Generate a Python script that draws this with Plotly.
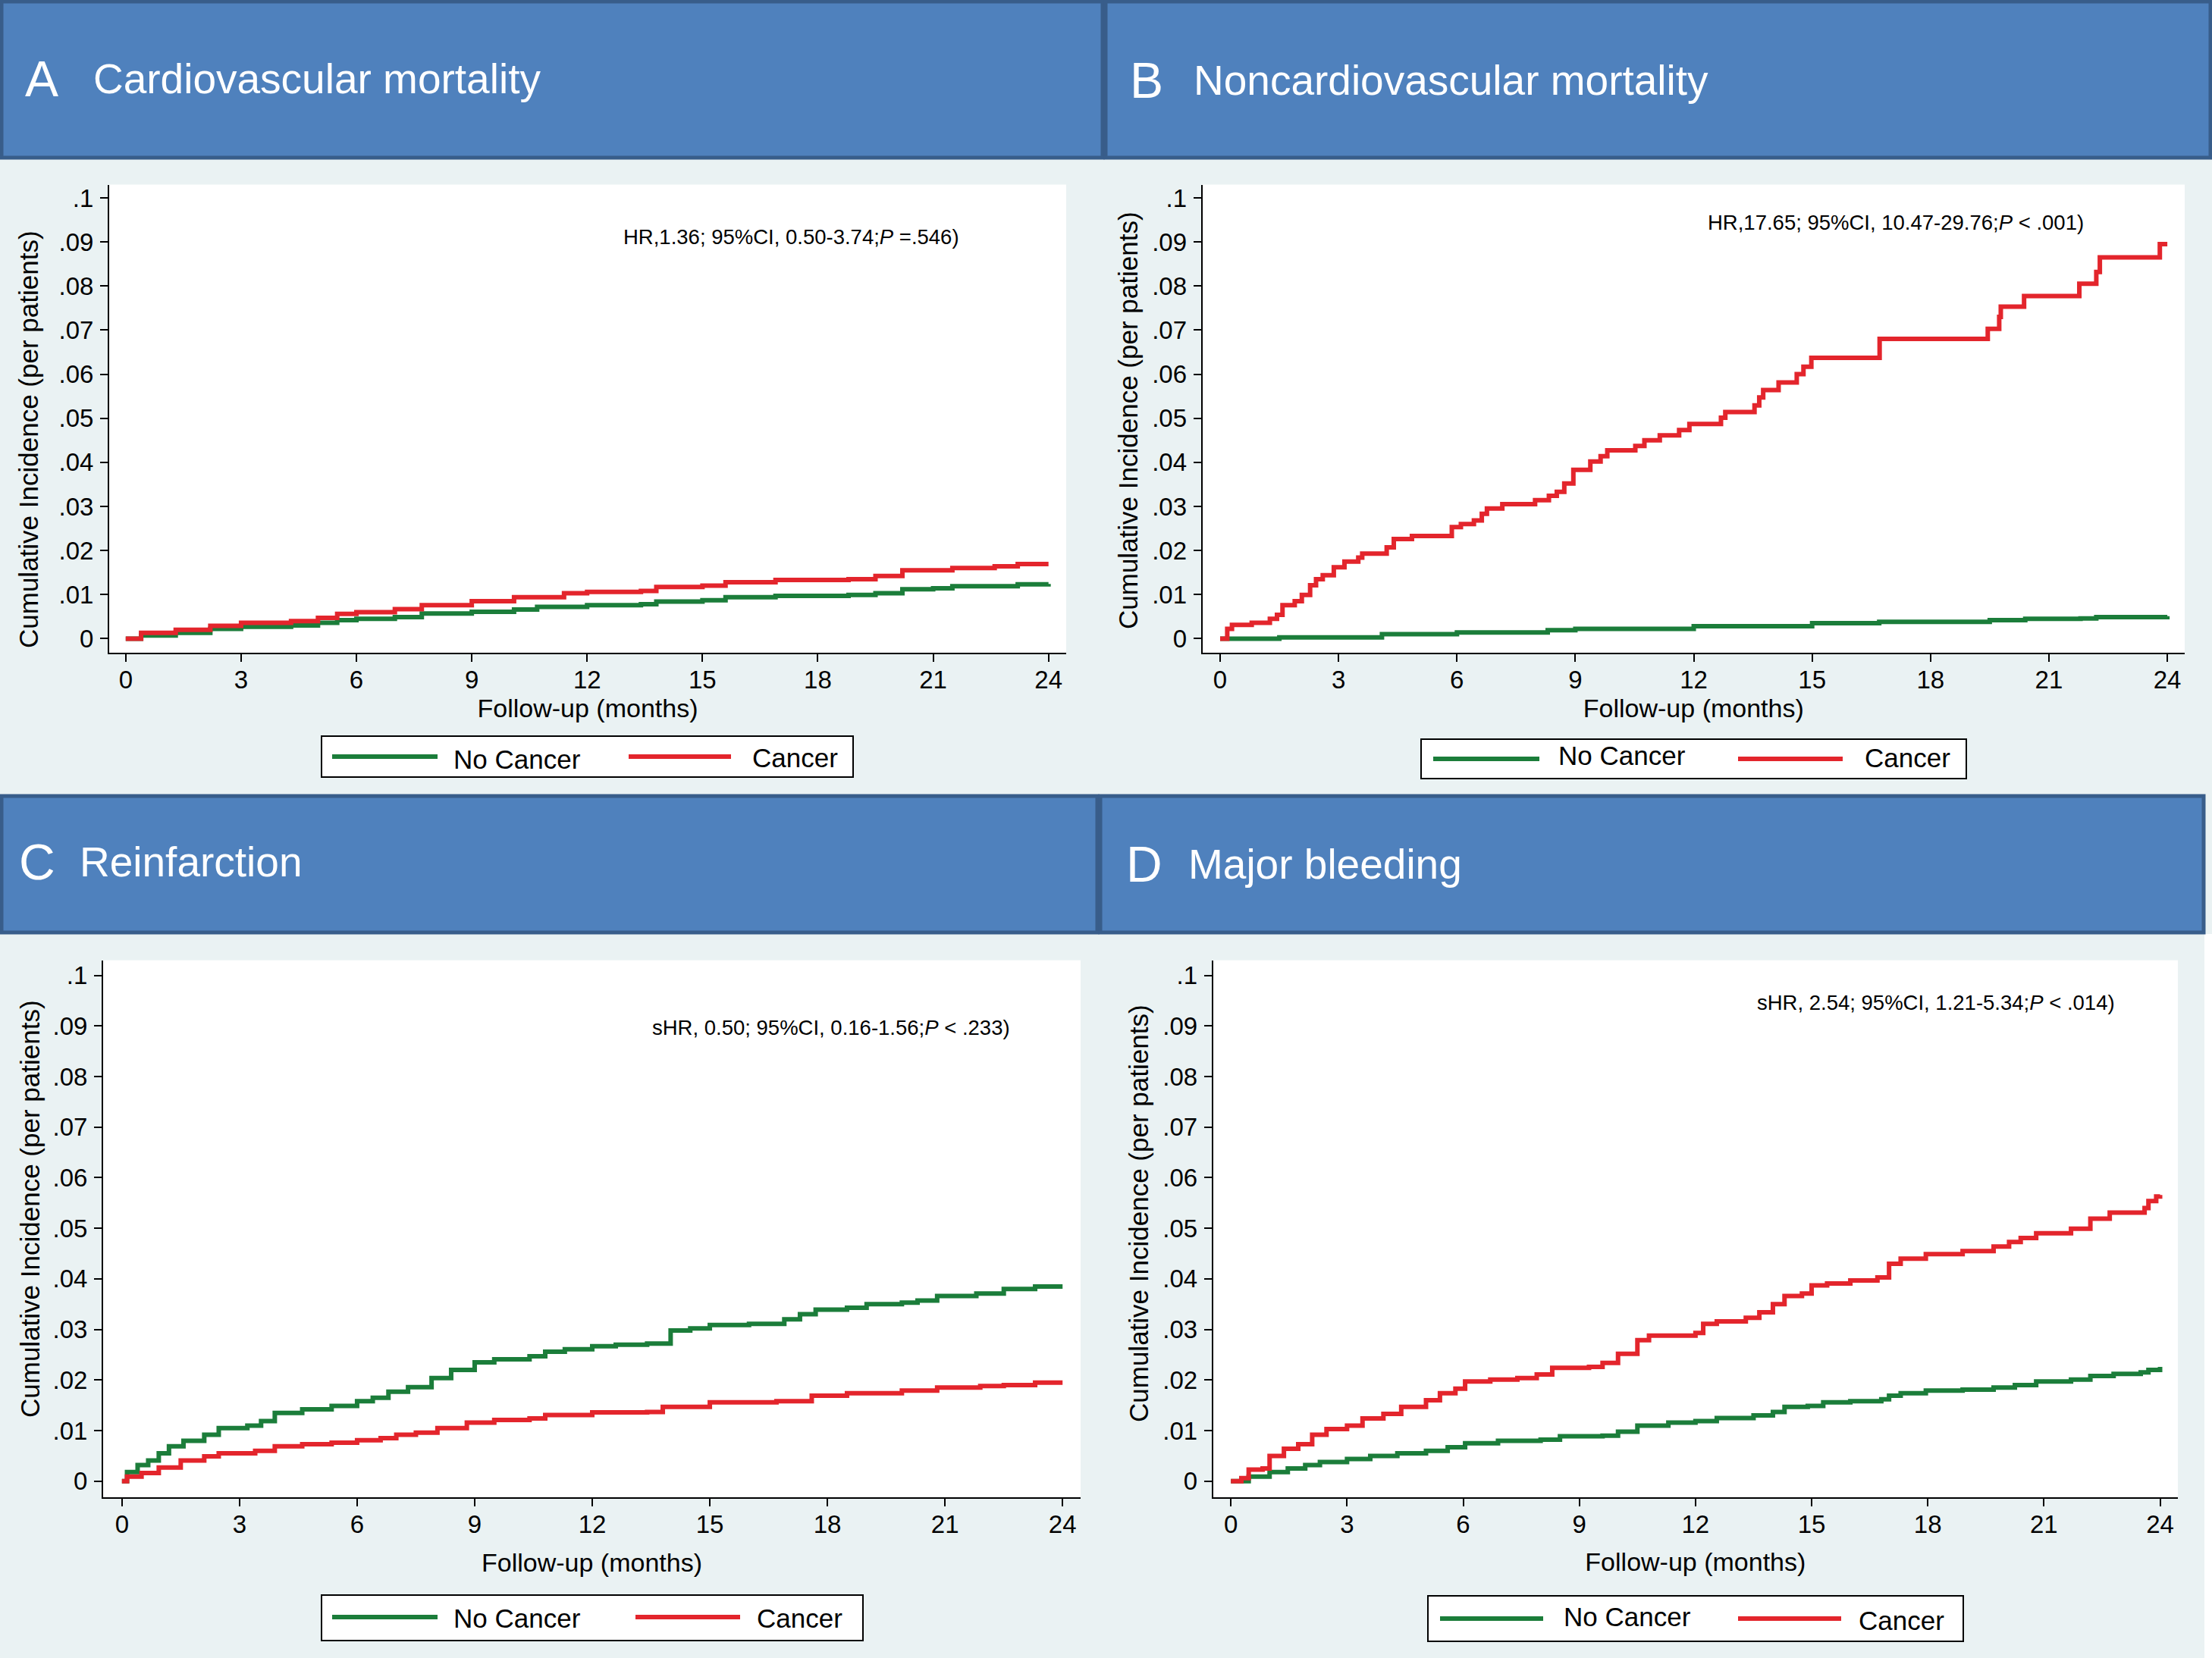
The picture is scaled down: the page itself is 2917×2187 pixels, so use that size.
import plotly.graph_objects as go

W, H = 2917, 2187
FONT = "Liberation Sans, Arial, Helvetica, sans-serif"
GREEN = "#1b7d3a"
RED = "#e3252c"
HEAD_FILL = "#4f81bd"
HEAD_LINE = "#385d8a"
BG = "#eaf2f3"

# ---------------- data (months, cumulative incidence) ----------------
a_green_t = [0, 0.4, 1.3, 2.2, 3.0, 4.3, 5.0, 5.5, 6.0, 7.0, 7.7, 9.0, 10.1, 10.7, 12.0, 13.4, 13.8, 15.0, 15.6, 16.9, 18.8, 19.5, 20.2, 21.0, 21.5, 23.2, 24.0]
a_green_v = [0, 0.0007, 0.0013, 0.0022, 0.0027, 0.0030, 0.0036, 0.0042, 0.0045, 0.0049, 0.0057, 0.0061, 0.0066, 0.0072, 0.0076, 0.0078, 0.0084, 0.0087, 0.0094, 0.0097, 0.0099, 0.0103, 0.0112, 0.0114, 0.0119, 0.0123, 0.0124]
a_red_t = [0, 0.4, 1.3, 2.2, 3.0, 4.3, 5.0, 5.5, 6.0, 7.0, 7.7, 9.0, 10.1, 11.4, 12.0, 13.4, 13.8, 15.0, 15.6, 16.9, 18.8, 19.5, 20.2, 21.5, 22.6, 23.2, 24.0]
a_red_v = [0, 0.0013, 0.0020, 0.0029, 0.0036, 0.0040, 0.0047, 0.0056, 0.0060, 0.0067, 0.0076, 0.0085, 0.0094, 0.0103, 0.0106, 0.0108, 0.0117, 0.0120, 0.0128, 0.0133, 0.0135, 0.0142, 0.0155, 0.0160, 0.0164, 0.0169, 0.0169]

b_green_t = [0, 1.5, 4.1, 6.0, 8.3, 9.0, 12.0, 15.0, 16.7, 19.5, 20.4, 21.8, 22.2, 24.0]
b_green_v = [0, 0.0003, 0.0010, 0.0014, 0.0019, 0.0022, 0.0028, 0.0035, 0.0038, 0.0042, 0.0045, 0.0046, 0.0049, 0.0051]
b_red_t = [0, 0.18, 0.3, 0.8, 1.26, 1.44, 1.58, 1.89, 2.07, 2.28, 2.43, 2.6, 2.88, 3.15, 3.5, 3.6, 4.22, 4.4, 4.86, 5.87, 6.1, 6.43, 6.63, 6.76, 7.15, 7.98, 8.33, 8.53, 8.72, 8.95, 9.38, 9.64, 9.81, 10.52, 10.75, 11.14, 11.63, 11.89, 12.69, 12.8, 13.54, 13.66, 13.76, 14.15, 14.61, 14.78, 14.98, 16.71, 19.45, 19.74, 19.78, 20.37, 21.77, 22.2, 22.29, 23.81, 24.0]
b_red_v = [0, 0.0022, 0.0031, 0.0036, 0.0045, 0.0054, 0.0076, 0.0085, 0.0099, 0.0121, 0.0135, 0.0144, 0.0162, 0.0175, 0.0184, 0.0193, 0.0207, 0.0226, 0.0233, 0.0253, 0.0260, 0.0268, 0.0283, 0.0295, 0.0305, 0.0314, 0.0324, 0.0333, 0.0352, 0.0383, 0.0402, 0.0414, 0.0427, 0.0437, 0.0450, 0.0461, 0.0473, 0.0487, 0.0501, 0.0514, 0.0529, 0.0547, 0.0564, 0.0581, 0.0600, 0.0617, 0.0637, 0.0680, 0.0703, 0.0730, 0.0753, 0.0777, 0.0805, 0.0832, 0.0865, 0.0895, 0.0895]

c_green_t = [0, 0.13, 0.4, 0.67, 0.94, 1.2, 1.57, 2.1, 2.47, 3.2, 3.55, 3.9, 4.6, 5.35, 6.0, 6.4, 6.8, 7.3, 7.9, 8.4, 9.0, 9.5, 10.4, 10.8, 11.3, 12.0, 12.6, 13.4, 14.0, 14.5, 15.0, 16.0, 16.9, 17.3, 17.7, 18.5, 19.0, 19.9, 20.3, 20.8, 21.8, 22.5, 23.3, 24.0]
c_green_v = [0, 0.0018, 0.0032, 0.0041, 0.0055, 0.0069, 0.0080, 0.0092, 0.0105, 0.0110, 0.0119, 0.0135, 0.0142, 0.0149, 0.0158, 0.0165, 0.0177, 0.0186, 0.0204, 0.0220, 0.0235, 0.0241, 0.0247, 0.0256, 0.0261, 0.0267, 0.0270, 0.0272, 0.0298, 0.0302, 0.0309, 0.0311, 0.0320, 0.0330, 0.0339, 0.0343, 0.0350, 0.0353, 0.0357, 0.0366, 0.0371, 0.0380, 0.0385, 0.0385]
c_red_t = [0, 0.13, 0.5, 0.94, 1.5, 2.1, 2.47, 3.4, 3.9, 4.6, 5.35, 6.0, 6.6, 7.0, 7.5, 8.05, 8.8, 9.5, 10.4, 10.8, 12.0, 13.4, 13.8, 15.0, 16.7, 17.6, 18.5, 19.9, 20.8, 21.9, 22.5, 23.3, 24.0]
c_red_v = [0, 0.0009, 0.0016, 0.0027, 0.0041, 0.0049, 0.0055, 0.0060, 0.0069, 0.0073, 0.0076, 0.0081, 0.0085, 0.0092, 0.0096, 0.0105, 0.0116, 0.0121, 0.0124, 0.0131, 0.0136, 0.0137, 0.0147, 0.0156, 0.0158, 0.0169, 0.0174, 0.0179, 0.0185, 0.0188, 0.0190, 0.0195, 0.0195]

d_green_t = [0, 0.46, 1.0, 1.47, 1.92, 2.3, 3.0, 3.6, 4.3, 5.04, 5.6, 6.05, 6.9, 8.0, 8.5, 9.6, 10.0, 10.5, 11.3, 12.0, 12.55, 13.5, 14.0, 14.3, 14.9, 15.3, 16.0, 16.8, 17.0, 17.3, 17.95, 18.9, 19.7, 20.25, 20.8, 21.7, 22.2, 22.8, 23.5, 23.7, 24.0]
d_green_v = [0, 0.0009, 0.0018, 0.0025, 0.0032, 0.0038, 0.0044, 0.0050, 0.0055, 0.0060, 0.0067, 0.0075, 0.0080, 0.0082, 0.0089, 0.0090, 0.0098, 0.0110, 0.0116, 0.0119, 0.0125, 0.0130, 0.0137, 0.0147, 0.0149, 0.0156, 0.0158, 0.0162, 0.0169, 0.0174, 0.0179, 0.0181, 0.0185, 0.0190, 0.0197, 0.0201, 0.0208, 0.0212, 0.0215, 0.0220, 0.0226]
d_red_t = [0, 0.27, 0.46, 0.82, 1.0, 1.37, 1.74, 2.1, 2.47, 3.0, 3.4, 3.94, 4.4, 5.04, 5.4, 5.8, 6.05, 6.7, 7.4, 7.9, 8.3, 9.25, 9.6, 10.0, 10.5, 10.8, 12.0, 12.2, 12.55, 13.3, 13.65, 14.0, 14.3, 14.75, 15.0, 15.4, 16.0, 16.7, 17.0, 17.3, 17.95, 18.9, 19.7, 20.1, 20.4, 20.8, 21.7, 22.2, 22.7, 23.6, 23.7, 23.9, 24.0]
d_red_v = [0, 0.0006, 0.0023, 0.0025, 0.0050, 0.0064, 0.0073, 0.0092, 0.0103, 0.0110, 0.0124, 0.0133, 0.0147, 0.0160, 0.0174, 0.0183, 0.0197, 0.0201, 0.0204, 0.0211, 0.0224, 0.0226, 0.0234, 0.0252, 0.0279, 0.0288, 0.0293, 0.0311, 0.0316, 0.0323, 0.0334, 0.0350, 0.0366, 0.0371, 0.0387, 0.0391, 0.0397, 0.0403, 0.0430, 0.0440, 0.0449, 0.0455, 0.0464, 0.0473, 0.0481, 0.0490, 0.0499, 0.0519, 0.0531, 0.0540, 0.0554, 0.0563, 0.0566]

x_ticks = [0, 3, 6, 9, 12, 15, 18, 21, 24]
y_ticks = [0, 0.01, 0.02, 0.03, 0.04, 0.05, 0.06, 0.07, 0.08, 0.09, 0.1]
y_tick_text = ["0", ".01", ".02", ".03", ".04", ".05", ".06", ".07", ".08", ".09", ".1"]

series_names = ["No Cancer", "Cancer"]
panel_letters = ["A", "B", "C", "D"]
panel_titles = ["Cardiovascular mortality", "Noncardiovascular mortality", "Reinfarction", "Major bleeding"]
panel_stats = [
    "HR,1.36; 95%CI, 0.50-3.74;<i>P</i> =.546)",
    "HR,17.65; 95%CI, 10.47-29.76;<i>P</i> &lt; .001)",
    "sHR, 0.50; 95%CI, 0.16-1.56;<i>P</i> &lt; .233)",
    "sHR, 2.54; 95%CI, 1.21-5.34;<i>P</i> &lt; .014)",
]
x_title = "Follow-up (months)"
y_title = "Cumulative Incidence (per patients)"

panel_data = [
    (a_green_t, a_green_v, a_red_t, a_red_v),
    (b_green_t, b_green_v, b_red_t, b_red_v),
    (c_green_t, c_green_v, c_red_t, c_red_v),
    (d_green_t, d_green_v, d_red_t, d_red_v),
]

# ---------------- layout geometry (pixels) ----------------
def px(x):
    return x / W

def py(y):
    return 1 - y / H

plots = [
    dict(l=144, r=1406, t=243.5, b=860.7, xr=[-0.43, 24.46], xts=6, ytx=37, yty=580),
    dict(l=1585.6, r=2881, t=243.5, b=860.7, xr=[-0.45, 24.44], xts=7, ytx=1487, yty=555),
    dict(l=136, r=1425, t=1266.6, b=1974.8, xr=[-0.48, 24.46], xts=21, ytx=39, yty=1595),
    dict(l=1599.7, r=2872, t=1266.6, b=1974.8, xr=[-0.46, 24.46], xts=20, ytx=1501, yty=1601),
]
y_range = [-0.00315, 0.103]

headers = [
    dict(x0=2, x1=1454, y0=2, y1=208, lx=31, tx=121, cy=104),
    dict(x0=1458, x1=2915, y0=2, y1=208, lx=1488, tx=1572, cy=106),
    dict(x0=2, x1=1447, y0=1050, y1=1230, lx=23, tx=103, cy=1137),
    dict(x0=1451, x1=2906, y0=1050, y1=1230, lx=1483, tx=1565, cy=1140),
]

legends = [
    dict(l=424, r=1125, t=971, b=1025, g0=438, g1=577, t1=596, r0=829, r1=964, t2=990, ly=998, ty1=1001, ty2=999),
    dict(l=1874, r=2593, t=975, b=1027, g0=1890, g1=2030, t1=2053, r0=2292, r1=2430, t2=2457, ly=1001, ty1=996, ty2=1000),
    dict(l=424, r=1138, t=2104, b=2164, g0=438, g1=577, t1=596, r0=838, r1=976, t2=996, ly=2133, ty1=2134, ty2=2134),
    dict(l=1883, r=2589, t=2105, b=2165, g0=1899, g1=2035, t1=2060, r0=2292, r1=2428, t2=2449, ly=2135, ty1=2132, ty2=2137),
]

stats_pos = [(820, 313), (2250, 293), (858, 1355), (2315, 1322)]

fig = go.Figure()
shapes = []
annotations = []

# white strip at right of lower row
shapes.append(dict(type="rect", xref="paper", yref="paper", x0=px(2907), x1=1, y0=0, y1=py(1232),
                   fillcolor="white", line=dict(width=0), layer="below"))

for i in range(4):
    sfx = "" if i == 0 else str(i + 1)
    gt, gv, rt, rv = panel_data[i]
    p = plots[i]
    fig.add_trace(go.Scatter(x=gt, y=gv, mode="lines", line=dict(color=GREEN, width=6, shape="hv"),
                             name=series_names[0], showlegend=False, xaxis="x" + sfx, yaxis="y" + sfx))
    fig.add_trace(go.Scatter(x=rt, y=rv, mode="lines", line=dict(color=RED, width=6, shape="hv"),
                             name=series_names[1], showlegend=False, xaxis="x" + sfx, yaxis="y" + sfx))
    common = dict(showline=True, linecolor="black", linewidth=2, ticks="outside", ticklen=10,
                  tickwidth=2, tickcolor="black", showgrid=False, zeroline=False, mirror=False,
                  tickfont=dict(family=FONT, size=33, color="black"))
    fig.layout["xaxis" + sfx] = dict(domain=[px(p["l"]), px(p["r"])], range=p["xr"], anchor="y" + sfx,
                                     tickvals=x_ticks, ticktext=[str(v) for v in x_ticks], ticklabelstandoff=-4,
                                     title=dict(text=x_title, font=dict(family=FONT, size=34, color="black"),
                                                standoff=p["xts"]),
                                     **common)
    fig.layout["yaxis" + sfx] = dict(domain=[py(p["b"]), py(p["t"])], range=y_range, anchor="x" + sfx,
                                     tickvals=y_ticks, ticktext=y_tick_text, ticklabelstandoff=2,
                                     **common)
    # y-axis title (placed to match the reference offset)
    annotations.append(dict(xref="paper", yref="paper", x=px(p["ytx"]), y=py(p["yty"]), xanchor="center",
                            yanchor="middle", textangle=-90, text=y_title, showarrow=False,
                            font=dict(family=FONT, size=35, color="black")))
    h = headers[i]
    shapes.append(dict(type="rect", xref="paper", yref="paper", x0=px(h["x0"]), x1=px(h["x1"]),
                       y0=py(h["y1"]), y1=py(h["y0"]), fillcolor=HEAD_FILL, line=dict(color=HEAD_LINE, width=5)))
    annotations.append(dict(xref="paper", yref="paper", x=px(h["lx"]), y=py(h["cy"]), xanchor="left", yanchor="middle",
                            text=panel_letters[i], showarrow=False, font=dict(family=FONT, size=66, color="white")))
    annotations.append(dict(xref="paper", yref="paper", x=px(h["tx"]), y=py(h["cy"]), xanchor="left", yanchor="middle",
                            text=panel_titles[i], showarrow=False, font=dict(family=FONT, size=55, color="white")))
    sx, sy = stats_pos[i]
    annotations.append(dict(xref="paper", yref="paper", x=px(sx), y=py(sy), xanchor="left", yanchor="middle",
                            text=panel_stats[i], showarrow=False, font=dict(family=FONT, size=27.5, color="black")))
    lg = legends[i]
    shapes.append(dict(type="rect", xref="paper", yref="paper", x0=px(lg["l"]), x1=px(lg["r"]),
                       y0=py(lg["b"]), y1=py(lg["t"]), fillcolor="white", line=dict(color="black", width=2)))
    shapes.append(dict(type="line", xref="paper", yref="paper", x0=px(lg["g0"]), x1=px(lg["g1"]),
                       y0=py(lg["ly"]), y1=py(lg["ly"]), line=dict(color=GREEN, width=6)))
    shapes.append(dict(type="line", xref="paper", yref="paper", x0=px(lg["r0"]), x1=px(lg["r1"]),
                       y0=py(lg["ly"]), y1=py(lg["ly"]), line=dict(color=RED, width=6)))
    annotations.append(dict(xref="paper", yref="paper", x=px(lg["t1"]), y=py(lg["ty1"]), xanchor="left", yanchor="middle",
                            text=series_names[0], showarrow=False, font=dict(family=FONT, size=35, color="black")))
    annotations.append(dict(xref="paper", yref="paper", x=px(lg["t2"]), y=py(lg["ty2"]), xanchor="left", yanchor="middle",
                            text=series_names[1], showarrow=False, font=dict(family=FONT, size=35, color="black")))

fig.update_layout(width=W, height=H, margin=dict(l=0, r=0, t=0, b=0, pad=0),
                  paper_bgcolor=BG, plot_bgcolor="white", shapes=shapes, annotations=annotations,
                  showlegend=False, font=dict(family=FONT))

fig.write_html("out.html", config={"displayModeBar": False},
               post_script="document.body.style.margin='0';document.body.style.overflow='hidden';")
